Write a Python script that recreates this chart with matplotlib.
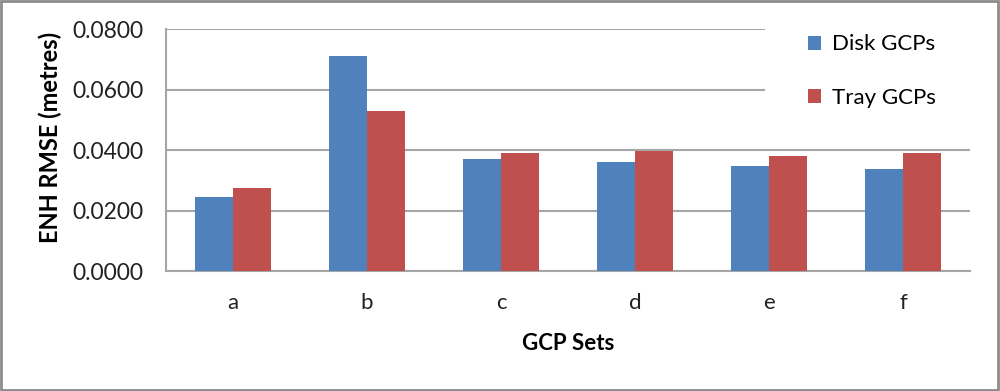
import matplotlib
matplotlib.use("Agg")
import matplotlib.pyplot as plt
import numpy as np
from matplotlib.patches import Rectangle

plt.rcParams['font.family'] = ['Lato', 'DejaVu Sans']

categories = ['a', 'b', 'c', 'd', 'e', 'f']
disk_gcps = [0.0246, 0.0711, 0.0370, 0.0359, 0.0347, 0.0338]
tray_gcps = [0.0273, 0.0529, 0.0391, 0.0397, 0.0380, 0.0391]
y_ticks = [0.0, 0.02, 0.04, 0.06, 0.08]

fig = plt.figure(figsize=(10, 3.91), dpi=100)
ax = fig.add_axes([0.166, 0.3069, 0.804, 0.6189])

x = np.arange(len(categories))
w = 0.28
ax.bar(x - w / 2, disk_gcps, w, color='#4F81BD', label='Disk GCPs', zorder=3)
ax.bar(x + w / 2, tray_gcps, w, color='#C0504D', label='Tray GCPs', zorder=3)

ax.set_xlim(-0.5, len(categories) - 0.5)
ax.set_ylim(0, 0.08)
ax.set_yticks(y_ticks)
ax.set_yticklabels(['%.4f' % v for v in y_ticks], fontsize=16.5, color='#222222')
ax.set_xticks(x)
ax.set_xticklabels(categories, fontsize=16, color='#222222')
ax.tick_params(axis='y', length=0, pad=16)
ax.tick_params(axis='x', length=0, pad=16)

ax.grid(axis='y', color='#a6a6a6', linewidth=1.5, zorder=0)
for s in ['top', 'right']:
    ax.spines[s].set_visible(False)
for s in ['left', 'bottom']:
    ax.spines[s].set_color('#a6a6a6')
    ax.spines[s].set_linewidth(1.5)

ax.set_ylabel('ENH RMSE (metres)', fontsize=17, fontweight='bold')
ax.yaxis.set_label_coords(-0.129, 0.55)
ax.set_xlabel('GCP Sets', fontsize=16, fontweight='bold', labelpad=14)

# white legend area covering the top gridlines, as in the original
ax.add_patch(Rectangle((0.745, 0.62), 0.3, 0.45, transform=ax.transAxes,
                       facecolor='white', edgecolor='none', zorder=4, clip_on=False))

leg = ax.legend(loc='upper left', bbox_to_anchor=(0.79, 1.005), frameon=False,
                fontsize=16, handlelength=0.6, handleheight=0.6,
                labelspacing=1.5, borderpad=0.3, handletextpad=0.5,
                borderaxespad=0)
leg.set_zorder(5)

fig.patches.append(Rectangle((0.001, 0.002), 0.997, 0.995, transform=fig.transFigure,
                             fill=False, edgecolor='#8c8c8c', linewidth=2))

fig.savefig('out.png', dpi=100)
